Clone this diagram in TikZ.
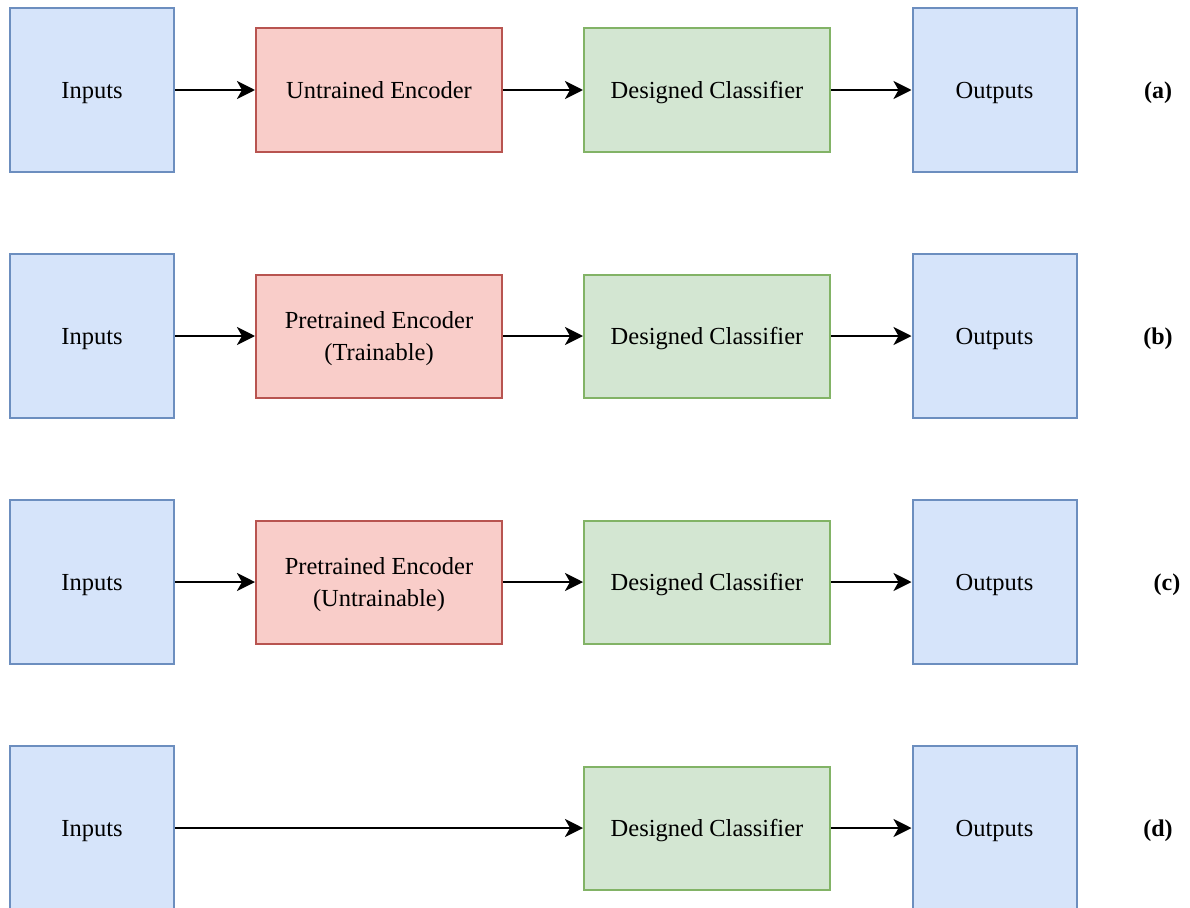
\documentclass[tikz,border=0pt]{standalone}
\usepackage{fontspec}
\setmainfont{Liberation Serif}
\usetikzlibrary{arrows.meta}
\definecolor{bluefill}{HTML}{D6E4FA}
\definecolor{bluedraw}{HTML}{6C8EBF}
\definecolor{redfill}{HTML}{F9CDC9}
\definecolor{reddraw}{HTML}{B85450}
\definecolor{greenfill}{HTML}{D3E6D2}
\definecolor{greendraw}{HTML}{82B366}
\tikzset{
  basebox/.style={line width=2pt, inner sep=0pt, text depth=0pt, align=center,
    font=\fontsize{24.5}{31.5}\selectfont},
  iobox/.style={basebox, draw=bluedraw, fill=bluefill, minimum width=164pt, minimum height=164pt},
  encbox/.style={basebox, draw=reddraw, fill=redfill, minimum width=246pt, minimum height=123pt},
  clsbox/.style={basebox, draw=greendraw, fill=greenfill, minimum width=246pt, minimum height=123pt},
  flow/.style={line width=2.8pt, -{Stealth[length=18pt, width=18pt, inset=5pt]}},
  tag/.style={text depth=0pt, font=\fontsize{24}{30}\selectfont\bfseries}
}
\begin{document}
\begin{tikzpicture}[x=1pt, y=-1pt]
\clip (0,0) rectangle (1190,907);
\useasboundingbox (0,0) rectangle (1190,907);
\fill[white] (0,0) rectangle (1190,907);

% (a) untrained encoder
\node[iobox]  (inA)  at (92,90)    {Inputs};
\node[encbox] (encA) at (379,90)   {Untrained Encoder};
\node[clsbox] (clsA) at (707,90)   {Designed Classifier};
\node[iobox]  (outA) at (994.5,90) {Outputs};
\node[tag]    (tagA) at (1158,90)  {(a)};
\draw[flow] (inA) -- (encA);
\draw[flow] (encA) -- (clsA);
\draw[flow] (clsA) -- (outA);

% (b) pretrained, trainable encoder
\node[iobox]  (inB)  at (92,336)    {Inputs};
\node[encbox] (encB) at (379,336)   {Pretrained Encoder\\(Trainable)};
\node[clsbox] (clsB) at (707,336)   {Designed Classifier};
\node[iobox]  (outB) at (994.5,336) {Outputs};
\node[tag]    (tagB) at (1158,336)  {(b)};
\draw[flow] (inB) -- (encB);
\draw[flow] (encB) -- (clsB);
\draw[flow] (clsB) -- (outB);

% (c) pretrained, frozen encoder
\node[iobox]  (inC)  at (92,582)    {Inputs};
\node[encbox] (encC) at (379,582)   {Pretrained Encoder\\(Untrainable)};
\node[clsbox] (clsC) at (707,582)   {Designed Classifier};
\node[iobox]  (outC) at (994.5,582) {Outputs};
\node[tag]    (tagC) at (1167,582)  {(c)};
\draw[flow] (inC) -- (encC);
\draw[flow] (encC) -- (clsC);
\draw[flow] (clsC) -- (outC);

% (d) no encoder
\node[iobox]  (inD)  at (92,828)    {Inputs};
\node[clsbox] (clsD) at (707,828)   {Designed Classifier};
\node[iobox]  (outD) at (994.5,828) {Outputs};
\node[tag]    (tagD) at (1158,828)  {(d)};
\draw[flow] (inD) -- (clsD);
\draw[flow] (clsD) -- (outD);
\end{tikzpicture}
\end{document}
